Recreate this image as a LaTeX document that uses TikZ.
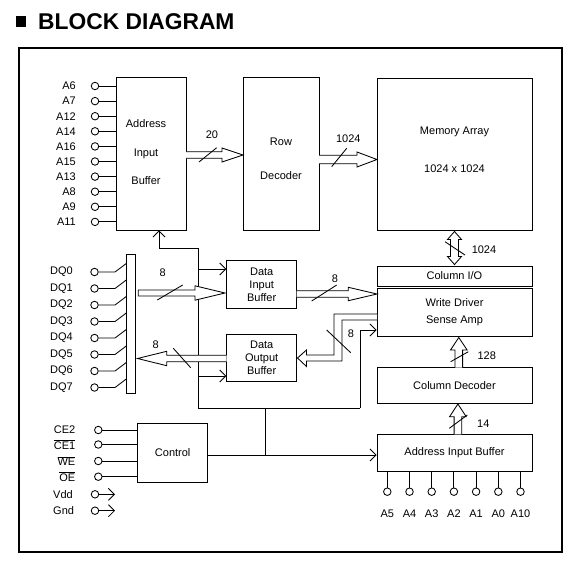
\documentclass[tikz,border=0pt]{standalone}
\usepackage{fontspec}
\setmainfont{Liberation Sans}
\usetikzlibrary{arrows.meta,calc}
\newcommand\lblfont{\fontsize{11}{13}\selectfont}
\tikzset{
  blk/.style={draw, line width=0.85pt, inner sep=0pt, align=center, font=\lblfont},
  pinc/.style={draw, circle, line width=0.85pt, minimum size=7.5pt, inner sep=0pt},
  wire/.style={line width=0.85pt},
  carrow/.style={wire, -{Straight Barb[length=6pt,width=12pt,line width=0.85pt]}},
  bus/.style={line width=0.85pt, fill=white},
  txt/.style={font=\lblfont, inner sep=0pt},
}
% horizontal hollow bus arrow: xstart, xheadbase, xtip, y, shaft half, head half
\newcommand\hbus[6]{\draw[bus] (#1,#4-#5) -- (#2,#4-#5) -- (#2,#4-#6) -- (#3,#4) -- (#2,#4+#6) -- (#2,#4+#5) -- (#1,#4+#5);}
\newcommand\hbusc[6]{\draw[bus] (#1,#4-#5) -- (#2,#4-#5) -- (#2,#4-#6) -- (#3,#4) -- (#2,#4+#6) -- (#2,#4+#5) -- (#1,#4+#5) -- cycle;}
% vertical hollow bus arrow: x, ystart, yheadbase, ytip, shaft half, head half
\newcommand\vbus[6]{\draw[bus] (#1-#5,#2) -- (#1-#5,#3) -- (#1-#6,#3) -- (#1,#4) -- (#1+#6,#3) -- (#1+#5,#3) -- (#1+#5,#2);}
\begin{document}
\begin{tikzpicture}[x=1pt,y=-1pt]
\useasboundingbox (0,0) rectangle (582,565);
% title
\fill (16,15.5) rectangle (25.5,26.5);
\node[anchor=base west, font=\bfseries\fontsize{22.8}{27}\selectfont, inner sep=0pt] (title) at (38,29.5) {BLOCK DIAGRAM};
\draw[line width=2pt] (19,48) rectangle (562,552);

% blocks
\node[blk, minimum width=70pt, minimum height=153pt] (aib) at (151,153.5) {\begin{tabular}{@{}c@{\hspace{10pt}}}Address\\[15.5pt]Input\\[15.5pt]Buffer\end{tabular}};
\node[blk, minimum width=76pt, minimum height=152.5pt] (rowdec) at (281,153.75) {\raisebox{-8.7pt}[0pt][0pt]{\begin{tabular}{@{}c@{}}Row\\[21pt]Decoder\end{tabular}}};
\node[blk, minimum width=155pt, minimum height=152pt] (mem) at (454.5,154) {\raisebox{0pt}[0pt][0pt]{\begin{tabular}{@{}c@{}}Memory Array\\[25pt]1024 x 1024\end{tabular}}};
\node[blk, minimum width=155pt, minimum height=20pt] (colio) at (454.5,276) {Column I/O};
\node[blk, minimum width=155pt, minimum height=48.4pt] (wdsa) at (454.5,312.5) {Write Driver\\[3.7pt]Sense Amp};
\node[blk, minimum width=155pt, minimum height=35.6pt] (coldec) at (454.5,385.5) {Column Decoder};
\node[blk, minimum width=155pt, minimum height=37.4pt] (aib2) at (454.5,453) {Address Input Buffer};
\node[blk, minimum width=70pt, minimum height=47.6pt] (dib) at (261.7,284.5) {Data\\Input\\Buffer};
\node[blk, minimum width=70pt, minimum height=47.7pt] (dob) at (261.7,357.85) {Data\\Output\\Buffer};
\node[blk, minimum width=70pt, minimum height=59pt] (ctrl) at (172.7,452.8) {Control};
\node[blk, minimum width=9pt, minimum height=139.3pt] (bar) at (131.2,323.65) {};

% address pins (top)
\foreach \n [count=\i from 0] in {A6,A7,A12,A14,A16,A15,A13,A8,A9,A11} {
  \pgfmathsetmacro\yy{86+15.1*\i}
  \node[pinc] (p\n) at (95,\yy) {};
  \node[txt, anchor=east] at (76,\yy) {\n};
  \draw[wire] (p\n.east) -- (p\n -| aib.west);
}
% DQ pins
\foreach \i in {0,...,7} {
  \pgfmathsetmacro\yy{272+16.5*\i}
  \node[pinc] (dq\i) at (94.5,\yy) {};
  \node[txt, anchor=west] at (50,\yy) {DQ\i};
  \coordinate (dk\i) at (115,\yy);
  \draw[wire] (dq\i.east) -- (dk\i) -- ($(dk\i -| bar.west)+(0,-8.5)$);
}
% address pins (bottom)
\foreach \n [count=\i from 0] in {A5,A4,A3,A2,A1,A0,A10} {
  \pgfmathsetmacro\xx{387.3+22.2*\i}
  \node[pinc] (p\n) at (\xx,491.7) {};
  \node[txt] at (\xx,513.3) {\n};
  \draw[wire] (p\n.north) -- (p\n |- aib2.south);
}
% control pins
\foreach \n/\t/\yy in {ce2/{CE2}/430, ce1/{$\overline{\hbox{CE1}}$}/444.5, we/{$\overline{\hbox{WE}}$}/461, oe/{$\overline{\hbox{OE}}$}/476.7} {
  \node[pinc] (\n) at (98.3,\yy) {};
  \node[txt, anchor=east] at (75.5,\yy) {\t};
  \draw[wire] (\n.east) -- (\n -| ctrl.west);
}
\node[pinc] (vdd) at (95,494.3) {};
\node[txt, anchor=west] at (53,494.3) {Vdd};
\coordinate (vdde) at (115,494.3);
\draw[carrow] (vdd.east) -- (vdde);
\node[pinc] (gnd) at (95,510.7) {};
\node[txt, anchor=west] at (53,510.7) {Gnd};
\coordinate (gnde) at (115,510.7);
\draw[carrow] (gnd.east) -- (gnde);

% control wiring
\coordinate (jc) at (265,455);
\coordinate (jt) at (265,408);
\coordinate (jl) at (198,408);
\coordinate (jr) at (360,408);
\coordinate (wk) at (360,330);
\coordinate (ju) at (198,248);
\coordinate (ju2) at (159,248);
\coordinate (ci1) at (198,269);
\coordinate (ci2) at (198,376);
\draw[wire] (ctrl.east |- jc) -- (jc);
\draw[carrow] (jc) -- (jc -| aib2.west);
\draw[wire] (jc) -- (jt);
\draw[wire] (jl) -- (jr);
\draw[carrow] (jr) -- (wk) -- (wk -| wdsa.west);
\draw[wire] (jl) -- (ju) -- (ju2);
\draw[carrow] (ju2) -- (ju2 |- aib.south);
\draw[carrow] (ci1) -- (ci1 -| dib.west);
\draw[carrow] (ci2) -- (ci2 -| dob.west);

% bus arrows
\hbus{186}{222}{243}{155}{3.3}{7}
\hbus{319}{357}{377}{159.5}{4.3}{7.5}
\hbusc{138.3}{195}{225}{293}{3}{7.2}
\hbus{226.7}{166.7}{137.5}{358.5}{3.3}{7.2}
\hbus{296.7}{348.3}{377}{294}{3.3}{6.7}
\draw[bus] (377,314) -- (334,314) -- (334,355) -- (306.5,355) -- (306.5,350) -- (297.5,358) -- (306.5,366.5) -- (306.5,361) -- (342,361) -- (342,320) -- (377,320);
\draw[bus] (454.5,231.5) -- (461.5,239.5) -- (458.5,239.5) -- (458.5,256.5) -- (461.5,256.5) -- (454.5,264.5) -- (447.5,256.5) -- (450.5,256.5) -- (450.5,239.5) -- (447.5,239.5) -- cycle;
\vbus{458.8}{367.7}{350}{337.5}{3.8}{8.3}
\vbus{457.9}{434.3}{416.7}{404}{3.8}{8.3}

% slashes
\draw[wire] (199,162) -- (216.7,147.7);
\draw[wire] (331.7,166.7) -- (346.7,148.3);
\draw[wire] (445,241.7) -- (465,255);
\draw[wire] (450.7,361.7) -- (468.3,351.7);
\draw[wire] (449.3,428.3) -- (467.3,415);
\draw[wire] (157.3,300) -- (182.7,285);
\draw[wire] (173.3,348.3) -- (190.7,367.7);
\draw[wire] (311.7,301) -- (336.7,285);
\draw[wire] (326.7,330) -- (350.7,352.7);

% bus labels
\node[txt] at (212,135) {20};
\node[txt] at (348.3,138.3) {1024};
\node[txt] at (484,249.3) {1024};
\node[txt] at (486.7,356) {128};
\node[txt] at (483.3,423.3) {14};
\node[txt] at (162.7,272.7) {8};
\node[txt] at (155.7,344.3) {8};
\node[txt] at (335,278.3) {8};
\node[txt] at (351,333.3) {8};
\end{tikzpicture}
\end{document}
